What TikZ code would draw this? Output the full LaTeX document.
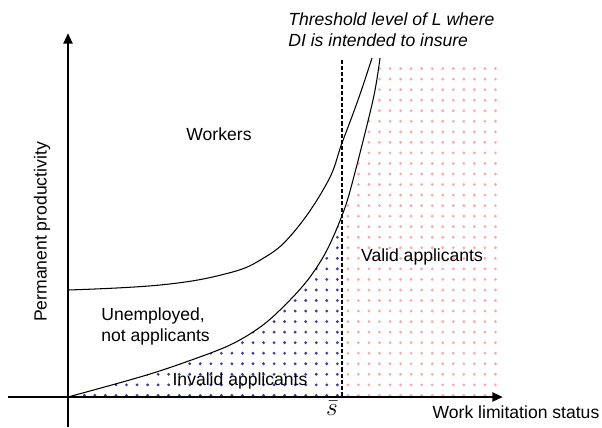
\documentclass[tikz,border=0pt]{standalone}
\usepackage{fontspec}
\setmainfont{Liberation Sans}
\usetikzlibrary{arrows.meta, patterns.meta}

\definecolor{dotblue}{RGB}{60,60,170}
\definecolor{dotpink}{RGB}{250,170,170}

\begin{document}
\begin{tikzpicture}[
        x=0.02cm, y=-0.02cm,
        font=\fontsize{10}{12}\selectfont,
        axis/.style={line width=1.4pt, -{Triangle[length=6pt, width=5pt]}},
        curve/.style={line width=0.6pt},
        threshold/.style={line width=0.9pt, dash pattern=on 2.3pt off 1.2pt},
        label/.style={align=left, inner sep=0pt},
        dotfill/.style={pattern={Dots[distance=6pt, radius=0.9pt]}, pattern color=#1}
    ]
    \useasboundingbox (0,0) rectangle (602,427);

    % area to the right of / below the lower curve
    \def\lowcurve{plot[smooth, tension=0.55] coordinates {(68,397) (140,377) (183,363) (230,345) (263,325) (290,300) (310,277) (327,250) (343,213) (353,180) (373,100) (380,58)}}

    % valid applicants
    \begin{scope}
        \clip (342,67) rectangle (497,397);
        \fill[dotfill=dotpink] \lowcurve -- (620,30) -- (620,397) -- cycle;
    \end{scope}
    % invalid applicants
    \begin{scope}
        \clip (68,0) rectangle (342,397);
        \fill[dotfill=dotblue] \lowcurve -- (620,30) -- (620,397) -- cycle;
    \end{scope}

    % curves
    \draw[curve] \lowcurve;
    \draw[curve] plot[smooth, tension=0.7] coordinates {(68,290) (160,285) (225,274) (262,259) (293,233) (327,183) (342,143) (358,100) (372,58)};
    \draw[threshold] (342,60) -- (342,397);

    % axes
    \coordinate (xstart) at (8,397);
    \coordinate (xend) at (503,397);
    \coordinate (ystart) at (68,427);
    \coordinate (yend) at (68,33);
    \draw[axis] (xstart) -- (xend);
    \draw[axis] (ystart) -- (yend);

    % labels
    \node[label, anchor=west] (note) at (288,30) {\itshape Threshold level of L where\\\itshape DI is intended to insure};
    \node (workers) at (219,134) {Workers};
    \node[label, anchor=west] (unemp) at (101,326) {Unemployed,\\not applicants};
    \node (invalid) at (240,381) {Invalid applicants};
    \node (valid) at (422,257) {Valid applicants};
    \node (sbar) at (332,408) {\fontsize{15}{15}\selectfont$\bar{s}$};
    \node (xlabel) at (516,412) {Work limitation status};
    \node[rotate=90] (ylabel) at (42,232) {Permanent productivity};
\end{tikzpicture}
\end{document}
